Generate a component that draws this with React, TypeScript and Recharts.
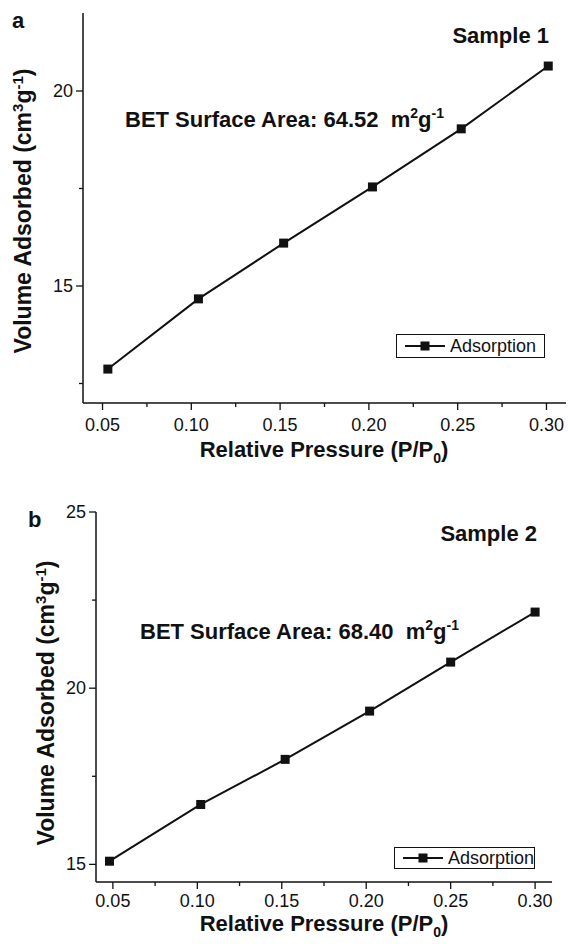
import { Legend, Line, LineChart, XAxis, YAxis } from 'recharts';

// sample 1
const pressureA = [0.053, 0.104, 0.152, 0.202, 0.252, 0.301];
const volumeA = [12.87, 14.67, 16.1, 17.54, 19.03, 20.64];
// sample 2
const pressureB = [0.048, 0.102, 0.152, 0.202, 0.25, 0.3];
const volumeB = [15.09, 16.7, 17.98, 19.35, 20.74, 22.16];

const xTicks = [0.05, 0.075, 0.1, 0.125, 0.15, 0.175, 0.2, 0.225, 0.25, 0.275, 0.3];
const xMajor = [0.05, 0.1, 0.15, 0.2, 0.25, 0.3];
const yTicksA = [12.5, 15, 17.5, 20];
const yMajorA = [15, 20];
const yTicksB = [15, 17.5, 20, 22.5, 25];
const yMajorB = [15, 20, 25];

const dataA = pressureA.map((p, i) => ({ p, v: volumeA[i] }));
const dataB = pressureB.map((p, i) => ({ p, v: volumeB[i] }));

const FONT = '"Liberation Sans", Arial, sans-serif';
const INK = '#111';

const isMajor = (list: number[], v: number) => list.some((m) => Math.abs(m - v) < 1e-6);

function makeTick(
  side: 'bottom' | 'top' | 'left' | 'right',
  major: number[],
  fmt: (v: number) => string,
  labelGap = 28,
) {
  return (props: any) => {
    const { x, y, payload } = props;
    const big = isMajor(major, payload.value);
    const len = big ? 7 : 4;
    if (side === 'bottom') {
      return (
        <g>
          <line x1={x} x2={x} y1={y} y2={y + len} stroke={INK} strokeWidth={1.3} />
          {big && (
            <text x={x} y={y + labelGap} textAnchor="middle" fontSize={18} fontFamily={FONT} fill={INK}>
              {fmt(payload.value)}
            </text>
          )}
        </g>
      );
    }
    if (side === 'top') {
      return <line x1={x} x2={x} y1={y} y2={y - len} stroke={INK} strokeWidth={1.3} />;
    }
    if (side === 'right') {
      return <line x1={x} x2={x + len} y1={y} y2={y} stroke={INK} strokeWidth={1.3} />;
    }
    return (
      <g>
        <line x1={x} x2={x - len} y1={y} y2={y} stroke={INK} strokeWidth={1.3} />
        {big && (
          <text x={x - 10} y={y + 6} textAnchor="end" fontSize={18} fontFamily={FONT} fill={INK}>
            {fmt(payload.value)}
          </text>
        )}
      </g>
    );
  };
}

const fmtX = (v: number) => v.toFixed(2);
const fmtY = (v: number) => String(v);

const SquareDot = (props: any) => {
  const { cx, cy } = props;
  if (cx == null || cy == null) return null;
  return <rect x={cx - 4.5} y={cy - 4.5} width={9} height={9} fill={INK} />;
};

const LegendBox = ({ width, height }: { width: number; height: number }) => (
  <div
    style={{
      width,
      height,
      boxSizing: 'border-box',
      border: `1px solid ${INK}`,
      background: '#fff',
      display: 'flex',
      alignItems: 'center',
      paddingLeft: 8,
      fontFamily: FONT,
      fontSize: 18,
      color: INK,
    }}
  >
    <svg width={40} height={12} style={{ marginRight: 5 }}>
      <line x1={0} x2={40} y1={6} y2={6} stroke={INK} strokeWidth={2} />
      <rect x={15.5} y={1.5} width={9} height={9} fill={INK} />
    </svg>
    <span>Adsorption</span>
  </div>
);

const axisLine = { stroke: INK, strokeWidth: 1.5 };

function YTitle({ x, y }: { x: number; y: number }) {
  return (
    <text
      x={x}
      y={y}
      transform={`rotate(-90, ${x}, ${y})`}
      textAnchor="middle"
      fontSize={23}
      fontWeight="bold"
      fontFamily={FONT}
      fill={INK}
    >
      Volume Adsorbed (cm
      <tspan dy={-8} fontSize={15}>3</tspan>
      <tspan dy={8}>g</tspan>
      <tspan dy={-8} fontSize={15}>-1</tspan>
      <tspan dy={8}>)</tspan>
    </text>
  );
}

function XTitle({ x, y }: { x: number; y: number }) {
  return (
    <text x={x} y={y} textAnchor="middle" fontSize={22} fontWeight="bold" fontFamily={FONT} fill={INK}>
      Relative Pressure (P/P
      <tspan dy={6} fontSize={14}>0</tspan>
      <tspan dy={-6}>)</tspan>
    </text>
  );
}

function BetText({ x, y, value }: { x: number; y: number; value: string }) {
  return (
    <text x={x} y={y} fontSize={22} fontWeight="bold" fontFamily={FONT} fill={INK}>
      {`BET Surface Area: ${value}\u00a0\u00a0m`}
      <tspan dy={-9} fontSize={14}>2</tspan>
      <tspan dy={9}>g</tspan>
      <tspan dy={-9} fontSize={14}>-1</tspan>
    </text>
  );
}

export default function App() {
  return (
    <div style={{ position: 'absolute', left: 0, top: 0, width: 568, height: 944, background: '#fff' }}>
      <div style={{ position: 'absolute', left: 0, top: 0 }}>
        <LineChart width={568} height={470} data={dataA} margin={{ top: 13, right: 2, bottom: 0, left: 0 }}>
          <XAxis
            dataKey="p"
            type="number"
            domain={[0.039, 0.311]}
            allowDataOverflow
            ticks={xTicks}
            height={67}
            tickSize={0}
            tickMargin={0}
            tickLine={false}
            axisLine={axisLine}
            tick={makeTick('bottom', xMajor, fmtX, 28)}
            interval={0}
          />
          <XAxis
            xAxisId="top"
            orientation="top"
            dataKey="p"
            type="number"
            domain={[0.039, 0.311]}
            allowDataOverflow
            ticks={xTicks}
            height={0}
            tickSize={0}
            tickMargin={0}
            tickLine={false}
            axisLine={axisLine}
            tick={makeTick('top', xMajor, fmtX)}
            interval={0}
          />
          <YAxis
            type="number"
            domain={[12, 22]}
            allowDataOverflow
            ticks={yTicksA}
            width={83}
            tickSize={0}
            tickMargin={0}
            tickLine={false}
            axisLine={axisLine}
            tick={makeTick('left', yMajorA, fmtY)}
            interval={0}
          />
          <YAxis
            yAxisId="right"
            orientation="right"
            type="number"
            domain={[12, 22]}
            allowDataOverflow
            ticks={yTicksA}
            width={0}
            tickSize={0}
            tickMargin={0}
            tickLine={false}
            axisLine={axisLine}
            tick={makeTick('right', yMajorA, fmtY)}
            interval={0}
          />
          <Line
            dataKey="v"
            stroke={INK}
            strokeWidth={2}
            dot={<SquareDot />}
            activeDot={false}
            isAnimationActive={false}
          />
          <Legend
            layout="vertical"
            align="center"
            verticalAlign="middle"
            wrapperStyle={{ left: 396, top: 334, width: 149 }}
            content={() => <LegendBox width={149} height={24} />}
          />
          <text x={12} y={28} fontSize={22} fontWeight="bold" fontFamily={FONT} fill={INK}>
            a
          </text>
          <text x={549} y={43} textAnchor="end" fontSize={22} fontWeight="bold" fontFamily={FONT} fill={INK}>
            Sample 1
          </text>
          <BetText x={125} y={127} value="64.52" />
          <YTitle x={31} y={211} />
          <XTitle x={324} y={457} />
        </LineChart>
      </div>
      <div style={{ position: 'absolute', left: 0, top: 460 }}>
        <LineChart width={568} height={484} data={dataB} margin={{ top: 52, right: 16, bottom: 0, left: 0 }}>
          <XAxis
            dataKey="p"
            type="number"
            domain={[0.04, 0.31]}
            allowDataOverflow
            ticks={xTicks}
            height={62}
            tickSize={0}
            tickMargin={0}
            tickLine={false}
            axisLine={axisLine}
            tick={makeTick('bottom', xMajor, fmtX, 25)}
            interval={0}
          />
          <XAxis
            xAxisId="top"
            orientation="top"
            dataKey="p"
            type="number"
            domain={[0.04, 0.31]}
            allowDataOverflow
            ticks={xTicks}
            height={0}
            tickSize={0}
            tickMargin={0}
            tickLine={false}
            axisLine={axisLine}
            tick={makeTick('top', xMajor, fmtX)}
            interval={0}
          />
          <YAxis
            type="number"
            domain={[14.5, 25]}
            allowDataOverflow
            ticks={yTicksB}
            width={96}
            tickSize={0}
            tickMargin={0}
            tickLine={false}
            axisLine={axisLine}
            tick={makeTick('left', yMajorB, fmtY)}
            interval={0}
          />
          <YAxis
            yAxisId="right"
            orientation="right"
            type="number"
            domain={[14.5, 25]}
            allowDataOverflow
            ticks={yTicksB}
            width={0}
            tickSize={0}
            tickMargin={0}
            tickLine={false}
            axisLine={axisLine}
            tick={makeTick('right', yMajorB, fmtY)}
            interval={0}
          />
          <Line
            dataKey="v"
            stroke={INK}
            strokeWidth={2}
            dot={<SquareDot />}
            activeDot={false}
            isAnimationActive={false}
          />
          <Legend
            layout="vertical"
            align="center"
            verticalAlign="middle"
            wrapperStyle={{ left: 394, top: 387, width: 141 }}
            content={() => <LegendBox width={141} height={22} />}
          />
          <text x={28} y={67} fontSize={22} fontWeight="bold" fontFamily={FONT} fill={INK}>
            b
          </text>
          <text x={537} y={81} textAnchor="end" fontSize={22} fontWeight="bold" fontFamily={FONT} fill={INK}>
            Sample 2
          </text>
          <BetText x={140} y={179} value="68.40" />
          <YTitle x={54} y={243} />
          <XTitle x={324} y={471} />
        </LineChart>
      </div>
    </div>
  );
}
